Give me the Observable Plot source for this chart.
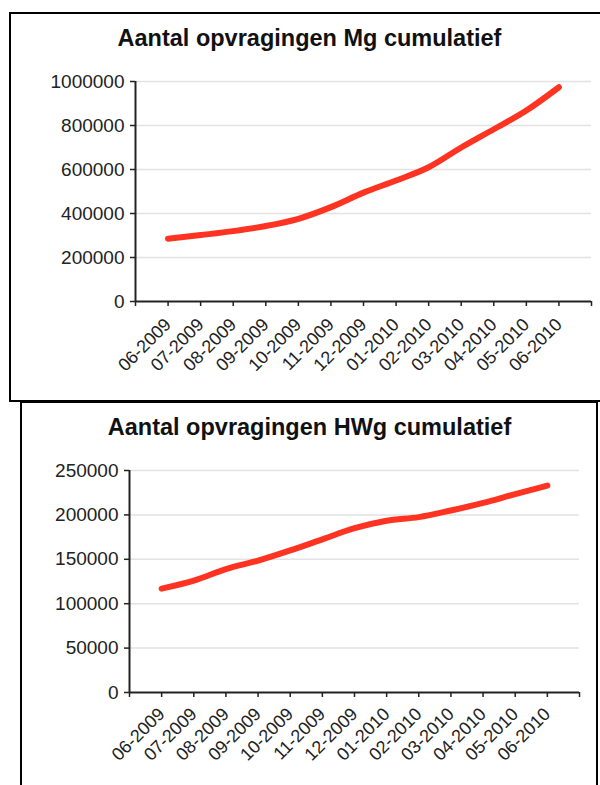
<!DOCTYPE html>
<html><head><meta charset="utf-8">
<script src="https://cdn.jsdelivr.net/npm/d3@7"></script>
<script src="https://cdn.jsdelivr.net/npm/@observablehq/plot@0.6"></script>
<style>
html,body{margin:0;padding:0;background:#fff;width:600px;height:785px;overflow:hidden;position:relative;font-family:"Liberation Sans",Arial,sans-serif;}
.box{position:absolute;box-sizing:border-box;border:2px solid #000;}
.title{position:absolute;left:0;width:619px;text-align:center;font-weight:bold;font-size:23.5px;line-height:23.5px;color:#111;white-space:nowrap;}
.chart{position:absolute;left:0;}
</style></head><body>
<div class="box" style="left:9px;top:12px;width:620px;height:390px"></div>
<div class="box" style="left:20px;top:401px;width:578px;height:420px"></div>
<div class="title" style="top:27px">Aantal opvragingen Mg cumulatief</div>
<div class="title" style="top:416px">Aantal opvragingen HWg cumulatief</div>
<div id="c1" class="chart" style="top:60px"></div>
<div id="c2" class="chart" style="top:445px"></div>
<script>
const months = ["06-2009","07-2009","08-2009","09-2009","10-2009","11-2009","12-2009","01-2010","02-2010","03-2010","04-2010","05-2010","06-2010"];
const mgValues = [285000,302000,320000,343000,376000,429000,495000,550000,610000,700000,783000,868000,974000];
const hwgValues = [117000,126000,139000,148500,160000,172500,185000,193500,197500,205000,213500,223500,233000];
const mgTicks = [0,200000,400000,600000,800000,1000000];
const hwgTicks = [0,50000,100000,150000,200000,250000];

function makeChart(values, yTicks, o) {
  const data = months.map((m, i) => ({i, m, v: values[i]}));
  const n = months.length;
  const idx = d3.range(-1, n + 1);
  const yMax = yTicks[yTicks.length - 1];
  return Plot.plot({
    width: 600, height: o.height,
    marginLeft: o.ml, marginRight: o.mr, marginTop: o.mt, marginBottom: o.mb,
    x: {domain: [-1, n]},
    y: {domain: [0, yMax]},
    style: {background: "transparent", fontFamily: '"Liberation Sans", Arial, sans-serif', color: "#222", overflow: "visible"},
    marks: [
      Plot.ruleY(yTicks.filter(t => t > 0), {x1: -1, x2: n, stroke: "#e2e2e2", strokeWidth: 1.5}),
      Plot.axisY(yTicks, {anchor: "left", tickSize: 5, tickPadding: 6, fontSize: 19, tickFormat: d => String(d), strokeWidth: 1.5, label: null}),
      Plot.axisX(idx, {anchor: "bottom", tickSize: 5, tickFormat: () => "", strokeWidth: 1.5, label: null}),
      Plot.ruleX([-1], {y1: 0, y2: yMax, stroke: "#222", strokeWidth: 2}),
      Plot.ruleY([0], {x1: -1, x2: n, stroke: "#222", strokeWidth: 2}),
      Plot.line(data, {x: "i", y: "v", stroke: "#ff3322", strokeWidth: 6, curve: "monotone-x"}),
      Plot.text(data, {x: "i", y: () => 0, text: "m", rotate: -45, textAnchor: "end", lineAnchor: "middle", dy: o.labelDy, fontSize: 18, fill: "#222"})
    ]
  });
}

document.getElementById("c1").append(makeChart(mgValues, mgTicks, {height: 340, ml: 135, mr: 9, mt: 21, mb: 99, labelDy: 20}));
document.getElementById("c2").append(makeChart(hwgValues, hwgTicks, {height: 330, ml: 129, mr: 21, mt: 25, mb: 83, labelDy: 18.5}));
</script>
</body></html>
